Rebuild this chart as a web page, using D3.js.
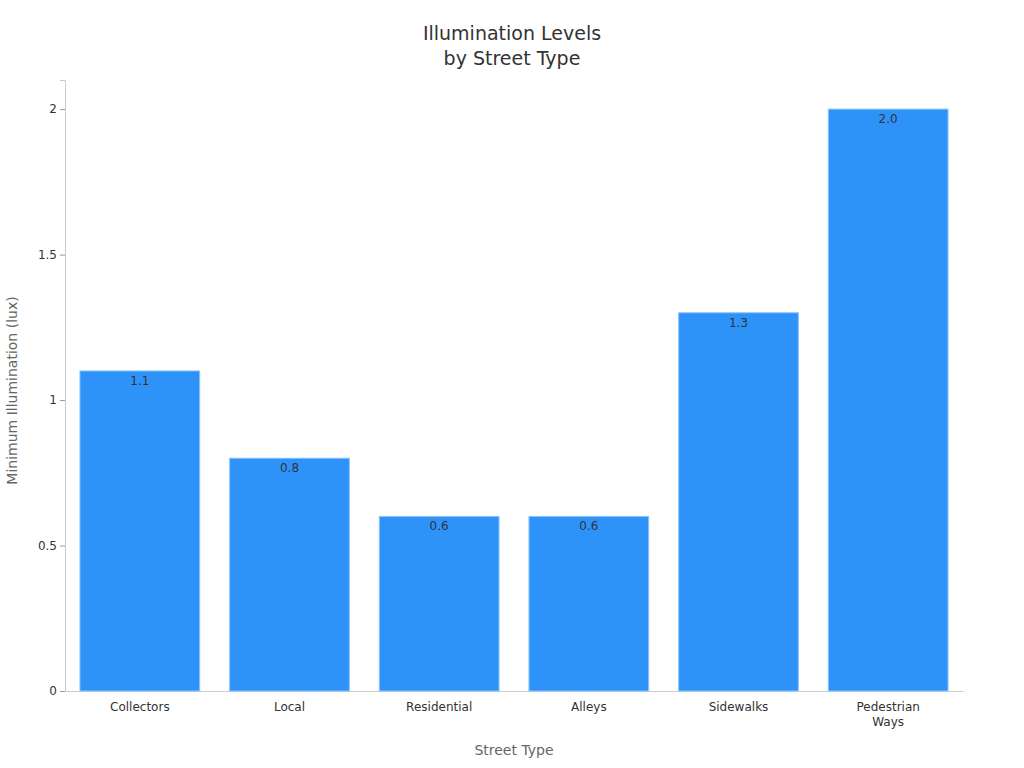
<!DOCTYPE html>
<html><head><meta charset="utf-8">
<script src="https://cdn.jsdelivr.net/npm/d3@7"></script>
<style>body{margin:0;background:#fff}</style>
</head><body>
<svg id="chart" width="1024" height="768"></svg>
<script>
const categories = ['Collectors', 'Local', 'Residential', 'Alleys', 'Sidewalks', 'Pedestrian\nWays']
const values = [1.1, 0.8, 0.6, 0.6, 1.3, 2.0]
const yTicks = [0, 0.5, 1, 1.5, 2]

const font = '"DejaVu Sans", "Noto Sans", sans-serif'
const m = { left: 65, right: 963, top: 80, bottom: 691 }
const svg = d3.select('#chart').style('font-family', font)

const x = d3.scaleBand().domain(categories).range([m.left, m.right]).paddingInner(0.2).paddingOuter(0.1)
const y = d3.scaleLinear().domain([0, 2.1]).range([m.bottom, m.top])

svg.append('text').attr('x', 512).attr('y', 40).attr('text-anchor', 'middle')
  .attr('font-size', 19).attr('fill', '#333')
  .selectAll('tspan').data(['Illumination Levels', 'by Street Type']).join('tspan')
  .attr('x', 512).attr('dy', (d, i) => i ? 25 : 0).text(d => d)

const yAxis = svg.append('g').attr('transform', `translate(${m.left},0)`)
  .call(d3.axisLeft(y).tickValues(yTicks).tickFormat(d3.format('~g')).tickSize(5))
yAxis.select('.domain').attr('stroke', '#ccc')
yAxis.selectAll('.tick line').attr('stroke', '#999')
yAxis.selectAll('text').attr('font-size', 12).attr('fill', '#333').attr('font-family', font)

const xAxis = svg.append('g').attr('transform', `translate(0,${m.bottom})`)
  .call(d3.axisBottom(x).tickSize(0).tickFormat(''))
xAxis.select('.domain').attr('stroke', '#ccc')
xAxis.selectAll('.tick').append('text').attr('fill', '#333').attr('font-size', 12).attr('font-family', font)
  .attr('text-anchor', 'middle')
  .selectAll('tspan').data(d => d.split('\n')).join('tspan')
  .attr('x', 0).attr('y', (d, i) => 20 + i * 15).text(d => d)

svg.append('text').attr('x', (m.left + m.right) / 2).attr('y', 755).attr('text-anchor', 'middle')
  .attr('font-size', 14).attr('fill', '#666').text('Street Type')
svg.append('text').attr('transform', `translate(17,${(m.top + m.bottom) / 2 + 5}) rotate(-90)`)
  .attr('text-anchor', 'middle').attr('font-size', 14).attr('fill', '#666').text('Minimum Illumination (lux)')

const bars = svg.append('g').selectAll('g').data(categories).join('g')
bars.append('rect').attr('x', d => x(d)).attr('width', x.bandwidth())
  .attr('y', (d, i) => y(values[i])).attr('height', (d, i) => y(0) - y(values[i]))
  .attr('fill', '#2e93f9').attr('stroke', '#8cc3fb').attr('stroke-width', 1)
bars.append('text').attr('x', d => x(d) + x.bandwidth() / 2).attr('y', (d, i) => y(values[i]) + 14)
  .attr('text-anchor', 'middle').attr('font-size', 12).attr('fill', '#333')
  .text((d, i) => values[i].toFixed(1))
</script>
</body></html>
